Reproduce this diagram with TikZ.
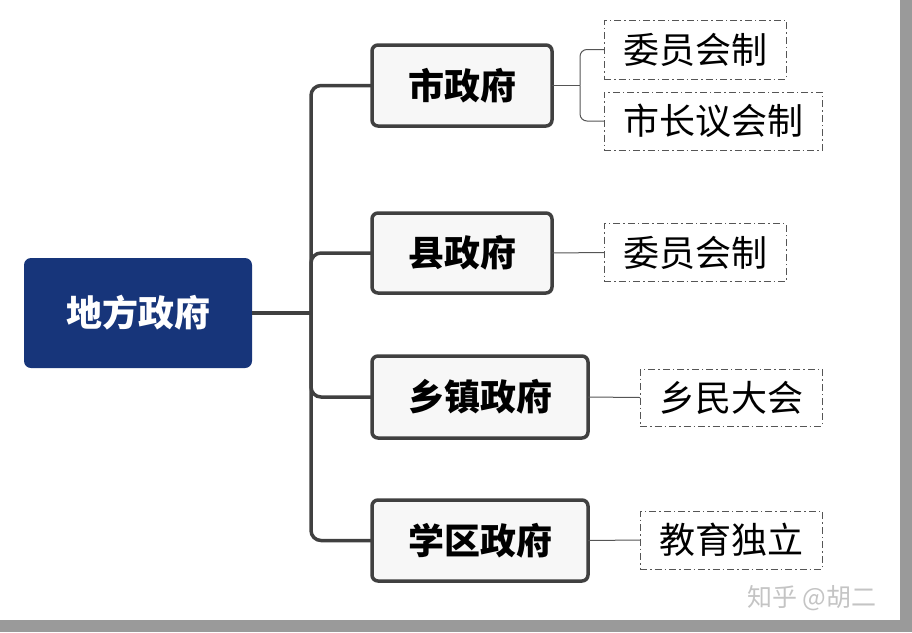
\documentclass[tikz,border=0pt]{standalone}
\usepackage{fontspec}
\setmainfont{Noto Sans CJK SC}
\definecolor{navy}{HTML}{17357A}
\definecolor{boxfill}{HTML}{F7F7F7}
\definecolor{boxline}{HTML}{404040}
\definecolor{thinline}{HTML}{555555}
\definecolor{framegrey}{HTML}{9A9A9A}
\definecolor{signgrey}{HTML}{C4C4C4}
\usetikzlibrary{positioning}
\tikzstyle{base}=[x=1pt, y=-1pt, inner sep=0pt, outer sep=0pt]
\tikzstyle{rootbox}=[fill=navy, rounded corners=7pt, text=white, font=\fontsize{36}{40}\selectfont\bfseries]
\tikzstyle{govbox}=[draw=boxline, fill=boxfill, line width=3.5pt, rounded corners=6pt, font=\fontsize{36}{40}\selectfont\bfseries]
\tikzstyle{formbox}=[draw=thinline, line width=1pt, dash pattern=on 7pt off 3pt on 1.5pt off 3pt, font=\fontsize{36}{40}\selectfont]
\tikzstyle{trunk}=[draw=boxline, line width=3.5pt, rounded corners=10pt]
\tikzstyle{twig}=[draw=thinline, line width=1pt, rounded corners=7pt]

\begin{document}
\begin{tikzpicture}[base]
    \path [use as bounding box] (0,0) rectangle (912,632);
    \fill [framegrey] (900,0) rectangle (912,632);
    \fill [framegrey] (0,620) rectangle (912,632);
    % main nodes
    \node [rootbox, minimum width=228pt, minimum height=110pt] (root) at (138,313) {地方政府};
    \node [govbox, minimum width=180pt, minimum height=81pt] (city) at (462,85.5) {市政府};
    \node [govbox, minimum width=180pt, minimum height=80pt] (county) at (462,253) {县政府};
    \node [govbox, minimum width=216pt, minimum height=82pt] (town) at (480,397) {乡镇政府};
    \node [govbox, minimum width=216pt, minimum height=81pt] (school) at (480,540.5) {学区政府};
    % forms
    \node [formbox, minimum width=182pt, minimum height=59pt] (cityA) at (695,49.5) {委员会制};
    \node [formbox, minimum width=218pt, minimum height=58pt] (cityB) at (713,121) {市长议会制};
    \node [formbox, minimum width=182pt, minimum height=58pt] (countyA) at (695,252.5) {委员会制};
    \node [formbox, minimum width=182pt, minimum height=57pt] (townA) at (731,397.5) {乡民大会};
    \node [formbox, minimum width=182pt, minimum height=58pt] (schoolA) at (731,540) {教育独立};
    % connectors
    \coordinate (hub) at (311,313);
    \draw [trunk] (root.east) -- (hub);
    \draw [trunk] (hub) |- (city.west);
    \draw [trunk] (hub) |- (county.west);
    \draw [trunk] (hub) |- (town.west);
    \draw [trunk] (hub) |- (school.west);
    \coordinate (fork) at (580,85.5);
    \draw [twig] (city.east) -- (fork);
    \draw [twig] (fork) |- (cityA.west);
    \draw [twig] (fork) |- (cityB.west);
    \draw [twig] (county.east) -- (countyA.west);
    \draw [twig] (town.east) -- (townA.west);
    \draw [twig] (school.east) -- (schoolA.west);
    \node [text=signgrey, font=\fontsize{25}{28}\selectfont] (sign) at (812,598) {知乎 @胡二};
\end{tikzpicture}
\end{document}
